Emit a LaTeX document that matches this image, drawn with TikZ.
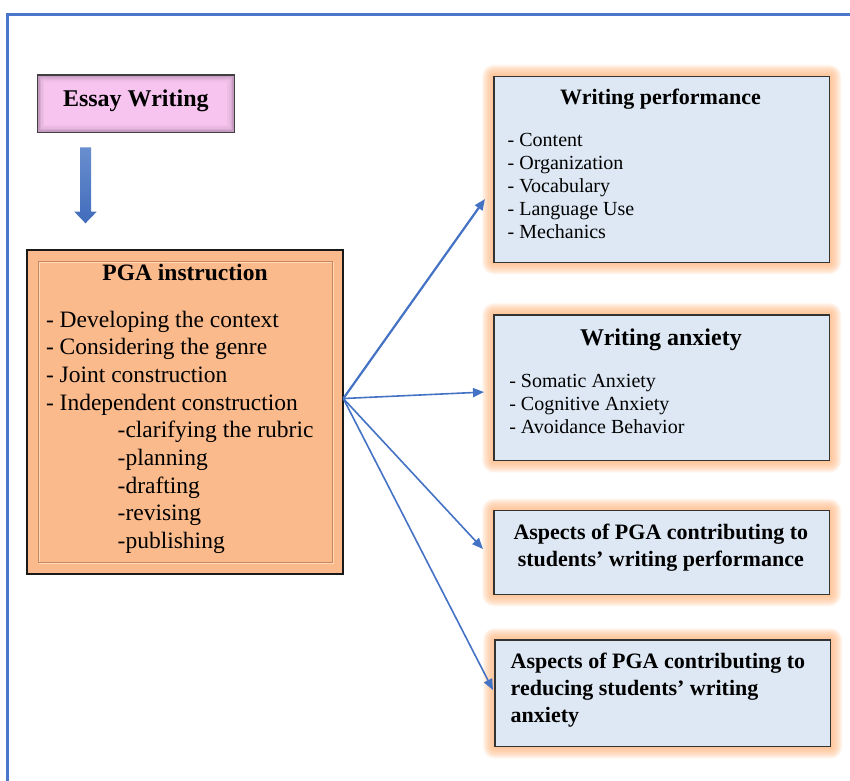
\documentclass[tikz,border=0pt]{standalone}
\usepackage{fontspec}
\setmainfont{Liberation Serif}
\usetikzlibrary{arrows.meta,calc}

\definecolor{framebl}{HTML}{4A76CC}
\definecolor{linkbl}{HTML}{4472C4}
\definecolor{pinkfill}{HTML}{F6C4EE}
\definecolor{peachfill}{HTML}{FBBA8B}
\definecolor{bluefill}{HTML}{DEE8F4}
\definecolor{glowcol}{HTML}{FFB37A}
\definecolor{bevdark}{HTML}{C98660}
\definecolor{bevlight}{HTML}{FFDAB8}
\definecolor{shadepink}{HTML}{8E6A8A}

% soft orange halo drawn behind a box
\newcommand\halobehind[1]{%
  \foreach \i in {1,...,12}{%
    \fill[glowcol, opacity=0.11, rounded corners=\i pt]
      ($(#1.north west)+(-\i,-\i)$) rectangle ($(#1.south east)+(\i,\i)$);
  }%
}

\tikzset{
  shapebox/.style={draw=black!80, line width=1.1pt, minimum width=#1, inner sep=0pt, outer sep=0pt, anchor=north west},
  infobox/.style={shapebox=335.3pt, fill=bluefill},
  txt/.style={inner sep=0pt, outer sep=0pt, font=\fontsize{20}{23}\selectfont},
  bigtxt/.style={inner sep=0pt, outer sep=0pt, font=\fontsize{23.5}{27.7}\selectfont},
  conn/.style={draw=linkbl, line width=1.6pt, -{Triangle[length=11pt,width=9pt]}},
}

\begin{document}
\begin{tikzpicture}[x=1pt,y=-1pt]
\useasboundingbox (0,0) rectangle (850,780);

% outer frame
\draw[framebl, line width=2.2pt] (7.5,782) -- (7.5,14.5) -- (852,14.5);

% ---------- Essay Writing ----------
\node[shapebox=197pt, minimum height=57.3pt, fill=pinkfill] (essay) at (37.3,75) {};
\foreach \k/\o in {1/0.45,2/0.28,3/0.14,4/0.06}{
  \draw[shadepink, opacity=\o, line width=1.6pt]
    ($(essay.north west)+(\k*1.6-0.2,\k*1.6-0.2)$) rectangle ($(essay.south east)+(-\k*1.6+0.2,-\k*1.6+0.2)$);
}
\draw[black!75, line width=1.2pt] (essay.north west) rectangle (essay.south east);
\node[txt, anchor=base, font=\bfseries\fontsize{24}{28}\selectfont] (essayt) at (135.8,106.7) {Essay Writing};

% block arrow down to the PGA box
\coordinate (dn) at (85.5,147.3);
\shade[top color=linkbl!80!white, bottom color=linkbl!95!black]
  ($(dn)+(-5.5,0)$) -- ($(dn)+(5.5,0)$) -- ($(dn)+(5.5,64.4)$) -- ($(dn)+(11.2,64.4)$)
  -- ($(dn)+(0,76)$) -- ($(dn)+(-11.2,64.4)$) -- ($(dn)+(-5.5,64.4)$) -- cycle;

% ---------- PGA instruction ----------
\node[shapebox=316.6pt, minimum height=324pt, fill=peachfill, line width=2pt, draw=black!90] (pga) at (26.7,250) {};
\draw[bevlight, line width=0.9pt] ($(pga.north west)+(12.4,12.4)$) rectangle ($(pga.south east)+(-10.2,-10.2)$);
\draw[bevdark, line width=0.9pt] ($(pga.north west)+(11.4,11.4)$) rectangle ($(pga.south east)+(-11.2,-11.2)$);

\node[bigtxt, anchor=base, font=\bfseries\fontsize{23.5}{27.7}\selectfont] (pgat) at (185,280.7) {PGA instruction};
\node[bigtxt, anchor=base west] (p1) at (46,327) {- Developing the context};
\node[bigtxt, anchor=base west] (p2) at (46,354.7) {- Considering the genre};
\node[bigtxt, anchor=base west] (p3) at (46,382.4) {- Joint construction};
\node[bigtxt, anchor=base west] (p4) at (46,410.1) {- Independent construction};
\node[bigtxt, anchor=base west] (p5) at (117.7,437.8) {-clarifying the rubric};
\node[bigtxt, anchor=base west] (p6) at (117.7,465.5) {-planning};
\node[bigtxt, anchor=base west] (p7) at (117.7,493.2) {-drafting};
\node[bigtxt, anchor=base west] (p8) at (117.7,520.9) {-revising};
\node[bigtxt, anchor=base west] (p9) at (117.7,548.6) {-publishing};

% ---------- right-hand boxes ----------
\coordinate (wpc) at (494,76.7);
\coordinate (wac) at (494,315);
\coordinate (a1c) at (494,510.7);
\coordinate (a2c) at (495,640);
\path (wpc) node[infobox, minimum height=185.6pt, draw=none, fill=none] (wp) {};
\path (wac) node[infobox, minimum height=145.7pt, draw=none, fill=none] (wa) {};
\path (a1c) node[infobox, minimum height=83.6pt, draw=none, fill=none] (asp1) {};
\path (a2c) node[infobox, minimum height=106.7pt, draw=none, fill=none] (asp2) {};
\halobehind{wp}
\halobehind{wa}
\halobehind{asp1}
\halobehind{asp2}
\path (wpc) node[infobox, minimum height=185.6pt] (wpbox) {};
\path (wac) node[infobox, minimum height=145.7pt] (wabox) {};
\path (a1c) node[infobox, minimum height=83.6pt] (asp1box) {};
\path (a2c) node[infobox, minimum height=106.7pt] (asp2box) {};

% Writing performance
\node[txt, anchor=base, font=\bfseries\fontsize{22}{26}\selectfont] (wpt) at (660.5,104.3) {Writing performance};
\node[txt, anchor=base west] (w1) at (507.7,146) {- Content};
\node[txt, anchor=base west] (w2) at (507.7,169.1) {- Organization};
\node[txt, anchor=base west] (w3) at (507.7,192.2) {- Vocabulary};
\node[txt, anchor=base west] (w4) at (507.7,215.3) {- Language Use};
\node[txt, anchor=base west] (w5) at (507.7,238.4) {- Mechanics};

% Writing anxiety
\node[txt, anchor=base, font=\bfseries\fontsize{24}{28}\selectfont] (wat) at (661,345) {Writing anxiety};
\node[txt, anchor=base west] (x1) at (509.3,387.3) {- Somatic Anxiety};
\node[txt, anchor=base west] (x2) at (509.3,410.3) {- Cognitive Anxiety};
\node[txt, anchor=base west] (x3) at (509.3,433.3) {- Avoidance Behavior};

% Aspects boxes
\node[txt, anchor=base, font=\bfseries\fontsize{22}{27}\selectfont] (a11) at (660.8,539) {Aspects of PGA contributing to};
\node[txt, anchor=base, font=\bfseries\fontsize{22}{27}\selectfont] (a12) at (660.8,566.7) {students’ writing performance};
\node[txt, anchor=base west, font=\bfseries\fontsize{22}{27}\selectfont] (a21) at (510.7,668.3) {Aspects of PGA contributing to};
\node[txt, anchor=base west, font=\bfseries\fontsize{22}{27}\selectfont] (a22) at (510.7,695.7) {reducing students’ writing};
\node[txt, anchor=base west, font=\bfseries\fontsize{22}{27}\selectfont] (a23) at (510.7,722.3) {anxiety};

% ---------- connectors ----------
\coordinate (hub) at ($(pga.east)+(0,-13.5)$);
\draw[conn, line width=2.2pt] (hub) -- ($(wpbox.west)+(-9,29.5)$);
\draw[conn] (hub) -- ($(wabox.west)+(-10,4.2)$);
\draw[conn] (hub) -- ($(asp1box.west)+(-11,-3.5)$);
\draw[conn] (hub) -- ($(asp2box.west)+(-2,-3.3)$);
\end{tikzpicture}
\end{document}
